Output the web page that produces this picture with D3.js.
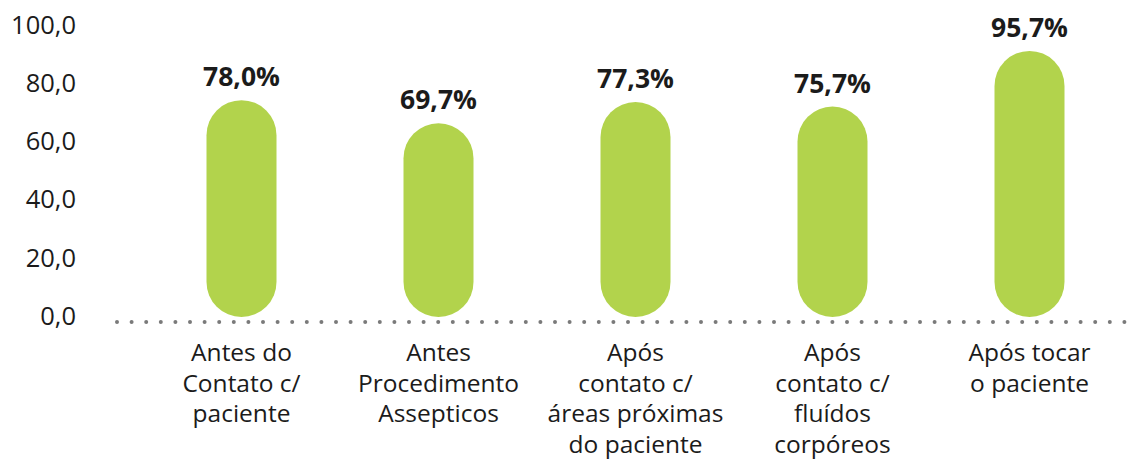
<!DOCTYPE html>
<html>
<head>
<meta charset="utf-8">
<script src="https://cdn.jsdelivr.net/npm/d3@7"></script>
<style>
  html, body { margin: 0; padding: 0; background: #fff; }
  svg { display: block; }
  text { font-family: "Open Sans", "Noto Sans", sans-serif; fill: #1b1b1b; }
</style>
</head>
<body>
<svg id="chart" width="1142" height="459"></svg>
<script>
// ---- data ----
const categories = [
  "Antes do|Contato c/|paciente",
  "Antes|Procedimento|Assepticos",
  "Após|contato c/|áreas próximas|do paciente",
  "Após|contato c/|fluídos|corpóreos",
  "Após tocar|o paciente"
];
const values = [78.0, 69.7, 77.3, 75.7, 95.7];
const yTicks = [0, 20, 40, 60, 80, 100];

// ---- setup ----
const svg = d3.select("#chart");
const loc = d3.formatLocale({ decimal: ",", thousands: ".", grouping: [3], currency: ["", ""] });
const f1 = loc.format(".1f");

const x = d3.scaleBand()
  .domain(d3.range(categories.length))
  .range([143, 1128])
  .paddingInner(1 - 70 / 197)
  .paddingOuter((1 - 70 / 197) / 2);

// axis label scale
const yAxisScale = d3.scaleLinear().domain([0, 100]).range([315, 24.5]);
// bar scale
const yBar = d3.scaleLinear().domain([0, 100]).range([317, 39]);

// y tick labels
const axis = d3.axisLeft(yAxisScale)
  .tickValues(yTicks)
  .tickFormat(d => f1(d))
  .tickSize(0)
  .tickPadding(0);
const gAxis = svg.append("g").attr("transform", "translate(76,0)").call(axis);
gAxis.select(".domain").remove();
gAxis.selectAll("text")
  .attr("font-family", "'Open Sans', 'Noto Sans', sans-serif")
  .attr("font-size", 25.5)
  .attr("fill", "#1b1b1b")
  .attr("dy", "0.36em");

// dotted baseline
svg.append("line")
  .attr("x1", 117).attr("x2", 1138)
  .attr("y1", 322).attr("y2", 322)
  .attr("stroke", "#7a7a7a")
  .attr("stroke-width", 4)
  .attr("stroke-linecap", "round")
  .attr("stroke-dasharray", "0 14.6");

// bars (pills)
const bw = x.bandwidth();
svg.append("g").selectAll("rect")
  .data(values)
  .join("rect")
  .attr("x", (d, i) => x(i))
  .attr("y", d => yBar(d))
  .attr("width", bw)
  .attr("height", d => yBar(0) - yBar(d))
  .attr("rx", bw / 2)
  .attr("ry", bw / 2)
  .attr("fill", "#b2d34c");

// value labels
svg.append("g").selectAll("text")
  .data(values)
  .join("text")
  .attr("x", (d, i) => x(i) + bw / 2)
  .attr("y", d => yBar(d) - 14)
  .attr("text-anchor", "middle")
  .attr("font-size", 26.5)
  .attr("font-weight", 700)
  .text(d => f1(d) + "%");

// category labels
const cat = svg.append("g").selectAll("text")
  .data(categories)
  .join("text")
  .attr("text-anchor", "middle")
  .attr("font-size", 24.5)
  .attr("x", (d, i) => x(i) + bw / 2)
  .attr("y", 361);
cat.each(function(d, i) {
  const t = d3.select(this);
  d.split("|").forEach((line, k) => {
    t.append("tspan")
      .attr("x", x(i) + bw / 2)
      .attr("y", 361 + k * 30.5)
      .text(line);
  });
});
</script>
</body>
</html>
